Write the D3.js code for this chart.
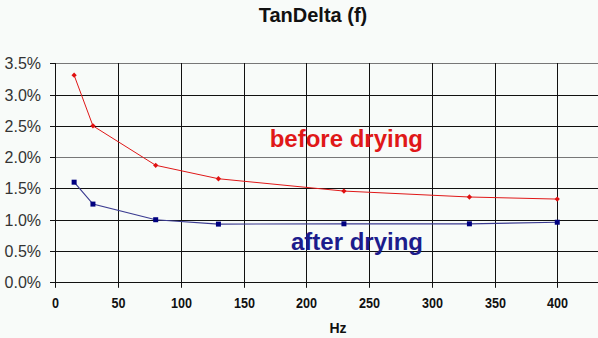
<!DOCTYPE html>
<html><head><meta charset="utf-8">
<script src="https://cdn.jsdelivr.net/npm/d3@7"></script>
<style>html,body{margin:0;padding:0;background:#f8fbf9;overflow:hidden}svg{display:block}</style>
</head><body>
<svg id="c" width="598" height="338"></svg>
<script>
const freq = [15, 30, 80, 130, 230, 330, 400];
const beforeDrying = [0.0331, 0.0250, 0.0187, 0.01655, 0.01458, 0.01363, 0.0133];
const afterDrying = [0.0160, 0.0125, 0.0100, 0.0093, 0.00935, 0.00935, 0.0096];
const xTicks = [0, 50, 100, 150, 200, 250, 300, 350, 400];
const yTicks = [0, 0.005, 0.01, 0.015, 0.02, 0.025, 0.03, 0.035];
const title = "TanDelta (f)";
const xLabel = "Hz";
const seriesLabels = ["before drying", "after drying"];

const svg = d3.select("#c");
svg.append("rect").attr("width",598).attr("height",338).attr("fill","#f8fbf9");
const x = d3.scaleLinear().domain([0,450]).range([55.3, 620]);
const y = d3.scaleLinear().domain([0,0.035]).range([282.3, 63.3]);
const font = "Liberation Sans, Arial, sans-serif";

// horizontal grid
const gy = svg.append("g").attr("transform","translate(55,0)")
  .call(d3.axisLeft(y).tickValues(yTicks).tickSize(5).tickFormat(d3.format(".1%")).tickSizeOuter(0));
gy.select(".domain").remove();
gy.selectAll("text").attr("x",-14).attr("font-family",font).attr("font-size",16).attr("fill","#333");
gy.selectAll("line").attr("stroke","#111");
gy.selectAll(".tick").attr("transform",d=>`translate(0,${Math.round(y(d))+0.5})`);
svg.append("g").selectAll("line").data(yTicks).join("line")
  .attr("x1",55).attr("x2",598).attr("y1",d=>Math.round(y(d))+0.5).attr("y2",d=>Math.round(y(d))+0.5)
  .attr("stroke",(d,i)=> (i===4||i===7)?"#777":"#111").attr("stroke-width",1);

// vertical grid
const gx = svg.append("g").attr("transform","translate(0,282.8)")
  .call(d3.axisBottom(x).tickValues(xTicks).tickSize(5).tickSizeOuter(0).tickFormat(d3.format("d")));
gx.select(".domain").remove();
gx.selectAll("line").attr("stroke","#111");
gx.selectAll(".tick").attr("transform",d=>`translate(${Math.round(x(d))+0.5},0)`);
gx.selectAll("text").attr("y",15).attr("dy","0.71em").attr("font-family",font)
  .attr("font-weight","bold").attr("font-size",15).attr("fill","#111")
  .attr("textLength",d=>String(d).length*7).attr("lengthAdjust","spacingAndGlyphs");
svg.append("g").selectAll("line").data(xTicks).join("line")
  .attr("x1",d=>Math.round(x(d))+0.5).attr("x2",d=>Math.round(x(d))+0.5).attr("y1",63).attr("y2",283)
  .attr("stroke","#111").attr("stroke-width",1);

const line = d3.line().x((d,i)=>x(freq[i])).y(d=>y(d));
svg.append("path").datum(beforeDrying).attr("d",line).attr("fill","none").attr("stroke","#e01818").attr("stroke-width",1);
svg.append("path").datum(afterDrying).attr("d",line).attr("fill","none").attr("stroke","#3a3a90").attr("stroke-width",1.2);

svg.append("g").selectAll("path").data(beforeDrying).join("path")
  .attr("d",d3.symbol(d3.symbolSquare, 14)())
  .attr("transform",(d,i)=>`translate(${x(freq[i])},${y(d)}) rotate(45)`)
  .attr("fill","#e01010");
svg.append("g").selectAll("rect").data(afterDrying).join("rect")
  .attr("x",(d,i)=>x(freq[i])-2.5).attr("y",d=>y(d)-2.5).attr("width",5).attr("height",5)
  .attr("fill","#000080");

svg.append("text").attr("x",313).attr("y",22).attr("text-anchor","middle")
  .attr("font-family",font).attr("font-weight","bold").attr("font-size",20).attr("fill","#111").text(title);
svg.append("text").attr("x",338).attr("y",333).attr("text-anchor","middle")
  .attr("font-family",font).attr("font-weight","bold").attr("font-size",14).attr("fill","#111").text(xLabel);
svg.append("text").attr("x",423).attr("y",147).attr("text-anchor","end")
  .attr("font-family",font).attr("font-weight","bold").attr("font-size",24).attr("fill","#e01818").text(seriesLabels[0]);
svg.append("text").attr("x",423).attr("y",250).attr("text-anchor","end")
  .attr("font-family",font).attr("font-weight","bold").attr("font-size",24).attr("fill","#1c1c8c").text(seriesLabels[1]);
</script>
</body></html>
